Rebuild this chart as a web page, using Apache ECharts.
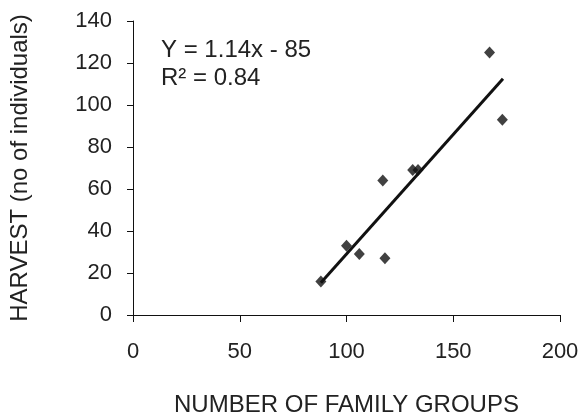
<!DOCTYPE html>
<html>
<head>
<meta charset="utf-8">
<script src="https://cdn.jsdelivr.net/npm/echarts@6/dist/echarts.min.js"></script>
<style>html,body{margin:0;padding:0;background:#fff}#c{width:581px;height:413px}</style>
</head>
<body>
<div id="c"></div>
<script>
var familyGroups = [88, 100, 106, 117, 118, 131, 133.5, 167, 173];
var harvest      = [16, 33, 29, 64, 27, 69, 69, 125, 93];
var trendX = [88, 173.3];
var trendY = [15.3, 112.5];
var xTicks = [0, 50, 100, 150, 200];
var yTicks = [0, 20, 40, 60, 80, 100, 120, 140];
var equationText = 'Y = 1.14x - 85';
var r2Text = 'R\u00B2 = 0.84';

var pts = familyGroups.map(function (x, i) { return [x, harvest[i]]; });
var trend = trendX.map(function (x, i) { return [x, trendY[i]]; });
var font = 'Liberation Sans, Arial, sans-serif';
var txt = '#222';

var chart = echarts.init(document.getElementById('c'));
chart.setOption({
  animation: false,
  grid: { left: 133, right: 21, top: 21, bottom: 98, containLabel: false, outerBoundsMode: 'none' },
  xAxis: {
    type: 'value', min: 0, max: 200, interval: 50,
    name: 'NUMBER OF FAMILY GROUPS', nameLocation: 'middle', nameGap: 78,
    nameTextStyle: { fontFamily: font, fontSize: 24, color: txt },
    axisLine: { show: true, lineStyle: { color: '#111', width: 1 } },
    axisTick: { show: true, length: 7, lineStyle: { color: '#111' } },
    axisLabel: { margin: 26, fontFamily: font, fontSize: 22, color: txt },
    splitLine: { show: false }
  },
  yAxis: {
    type: 'value', min: 0, max: 140, interval: 20,
    name: 'HARVEST (no of individuals)', nameLocation: 'middle', nameGap: 101,
    nameTextStyle: { fontFamily: font, fontSize: 24, color: txt },
    axisLine: { show: true, lineStyle: { color: '#111', width: 1 } },
    axisTick: { show: true, length: 6, lineStyle: { color: '#111' } },
    axisLabel: { margin: 21, fontFamily: font, fontSize: 22, color: txt },
    splitLine: { show: false }
  },
  graphic: [
    { type: 'text', left: 161, top: 38, style: { text: equationText, font: '24px ' + font, fill: txt } },
    { type: 'text', left: 161, top: 66, style: { text: r2Text, font: '24px ' + font, fill: txt } }
  ],
  series: [
    {
      type: 'line', data: trend, showSymbol: false, symbol: 'none',
      lineStyle: { color: '#111', width: 3 }, z: 2
    },
    {
      type: 'scatter', data: pts, symbol: 'diamond', symbolSize: [11, 12],
      itemStyle: { color: '#111' }, z: 3
    }
  ]
});
</script>
</body>
</html>
